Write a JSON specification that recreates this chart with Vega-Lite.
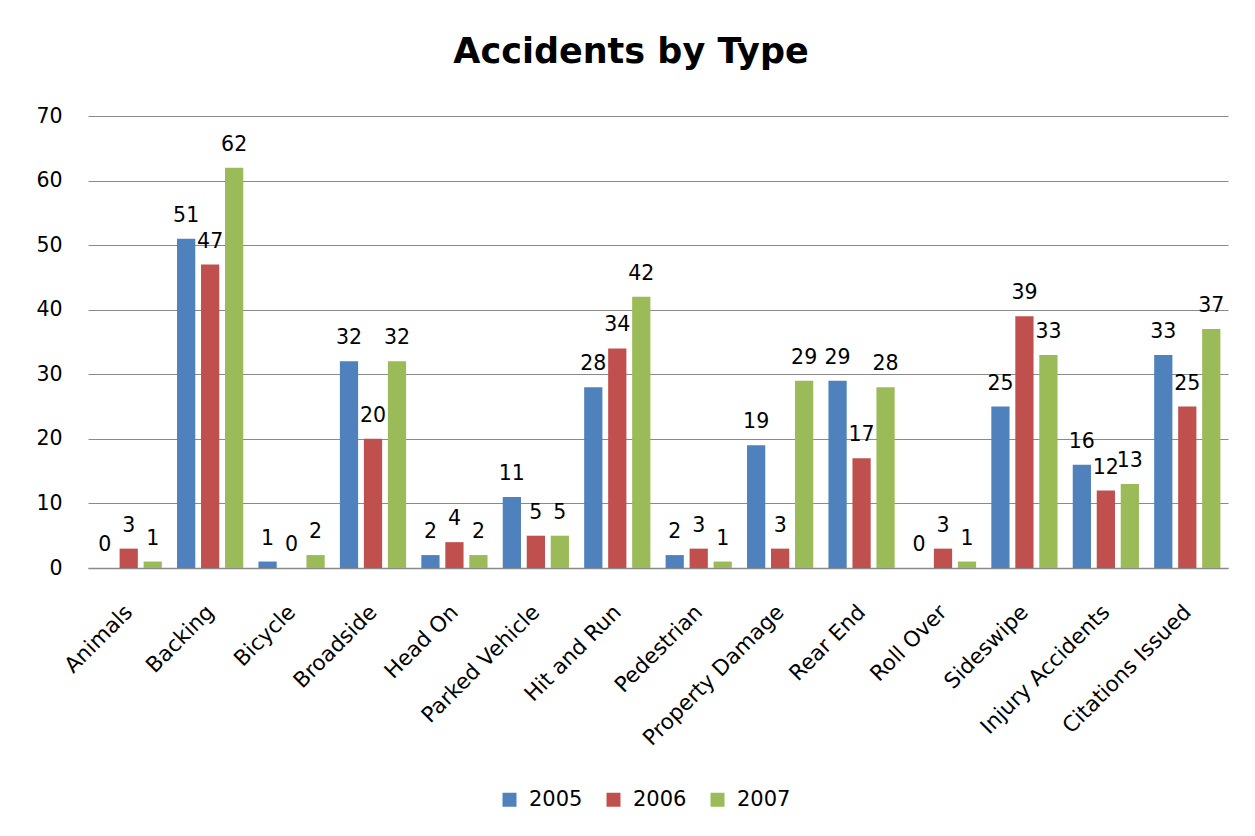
{
  "$schema": "https://vega.github.io/schema/vega-lite/v6.json",
  "width": 1140,
  "height": 452,
  "autosize": {"type": "none"},
  "padding": {"left": 88, "top": 116, "right": 27, "bottom": 268},
  "background": "white",
  "title": {
    "text": "Accidents by Type",
    "font": "DejaVu Sans",
    "fontSize": 35,
    "fontWeight": "bold",
    "color": "#000000",
    "anchor": "middle",
    "baseline": "alphabetic",
    "dx": -27,
    "offset": 8
  },
  "data": {
    "values": [
      {"type": "Animals", "year": "2005", "count": 0},
      {"type": "Animals", "year": "2006", "count": 3},
      {"type": "Animals", "year": "2007", "count": 1},
      {"type": "Backing", "year": "2005", "count": 51},
      {"type": "Backing", "year": "2006", "count": 47},
      {"type": "Backing", "year": "2007", "count": 62},
      {"type": "Bicycle", "year": "2005", "count": 1},
      {"type": "Bicycle", "year": "2006", "count": 0},
      {"type": "Bicycle", "year": "2007", "count": 2},
      {"type": "Broadside", "year": "2005", "count": 32},
      {"type": "Broadside", "year": "2006", "count": 20},
      {"type": "Broadside", "year": "2007", "count": 32},
      {"type": "Head On", "year": "2005", "count": 2},
      {"type": "Head On", "year": "2006", "count": 4},
      {"type": "Head On", "year": "2007", "count": 2},
      {"type": "Parked Vehicle", "year": "2005", "count": 11},
      {"type": "Parked Vehicle", "year": "2006", "count": 5},
      {"type": "Parked Vehicle", "year": "2007", "count": 5},
      {"type": "Hit and Run", "year": "2005", "count": 28},
      {"type": "Hit and Run", "year": "2006", "count": 34},
      {"type": "Hit and Run", "year": "2007", "count": 42},
      {"type": "Pedestrian", "year": "2005", "count": 2},
      {"type": "Pedestrian", "year": "2006", "count": 3},
      {"type": "Pedestrian", "year": "2007", "count": 1},
      {"type": "Property Damage", "year": "2005", "count": 19},
      {"type": "Property Damage", "year": "2006", "count": 3},
      {"type": "Property Damage", "year": "2007", "count": 29},
      {"type": "Rear End", "year": "2005", "count": 29},
      {"type": "Rear End", "year": "2006", "count": 17},
      {"type": "Rear End", "year": "2007", "count": 28},
      {"type": "Roll Over", "year": "2005", "count": 0},
      {"type": "Roll Over", "year": "2006", "count": 3},
      {"type": "Roll Over", "year": "2007", "count": 1},
      {"type": "Sideswipe", "year": "2005", "count": 25},
      {"type": "Sideswipe", "year": "2006", "count": 39},
      {"type": "Sideswipe", "year": "2007", "count": 33},
      {"type": "Injury  Accidents", "year": "2005", "count": 16},
      {"type": "Injury  Accidents", "year": "2006", "count": 12},
      {"type": "Injury  Accidents", "year": "2007", "count": 13},
      {"type": "Citations Issued", "year": "2005", "count": 33},
      {"type": "Citations Issued", "year": "2006", "count": 25},
      {"type": "Citations Issued", "year": "2007", "count": 37}
    ]
  },
  "encoding": {
    "x": {
      "field": "type",
      "type": "nominal",
      "sort": null,
      "scale": {"paddingInner": 0.116, "paddingOuter": 0.058},
      "axis": {
        "title": null,
        "labelAngle": -45,
        "labelFont": "DejaVu Sans",
        "labelFontSize": 21.5,
        "labelColor": "#000000",
        "labelLimit": 400,
        "labelPadding": 33,
        "labelOffset": -7,
        "ticks": false,
        "domainColor": "#8a8a8a",
        "domainWidth": 1.5,
        "grid": false
      }
    },
    "xOffset": {
      "field": "year",
      "type": "nominal",
      "scale": {"paddingInner": 0.24, "paddingOuter": 0.12}
    },
    "y": {
      "field": "count",
      "type": "quantitative",
      "scale": {"domain": [0, 70], "nice": false},
      "axis": {
        "title": null,
        "values": [0, 10, 20, 30, 40, 50, 60, 70],
        "labelFont": "DejaVu Sans",
        "labelFontSize": 20.5,
        "labelColor": "#000000",
        "labelPadding": 26,
        "ticks": false,
        "domain": false,
        "grid": true,
        "gridColor": "#8a8a8a",
        "gridWidth": 1.2
      }
    }
  },
  "layer": [
    {
      "mark": {"type": "bar"},
      "encoding": {
        "color": {
          "field": "year",
          "type": "nominal",
          "scale": {"domain": ["2005", "2006", "2007"], "range": ["#4F81BD", "#C0504D", "#9BBB59"]},
          "legend": {
            "title": null,
            "orient": "none",
            "legendX": 411,
            "legendY": 673,
            "direction": "horizontal",
            "symbolType": "square",
            "symbolSize": 196,
            "symbolStrokeWidth": 0,
            "labelFont": "DejaVu Sans",
            "labelFontSize": 21,
            "labelColor": "#000000",
            "labelOffset": 9,
            "columnPadding": 20
          }
        }
      }
    },
    {
      "mark": {
        "type": "text",
        "baseline": "alphabetic",
        "dy": -17,
        "font": "DejaVu Sans",
        "fontSize": 20.5,
        "color": "#000000"
      },
      "encoding": {
        "text": {"field": "count", "type": "quantitative", "format": "d"}
      }
    }
  ],
  "config": {
    "view": {"stroke": null}
  }
}
